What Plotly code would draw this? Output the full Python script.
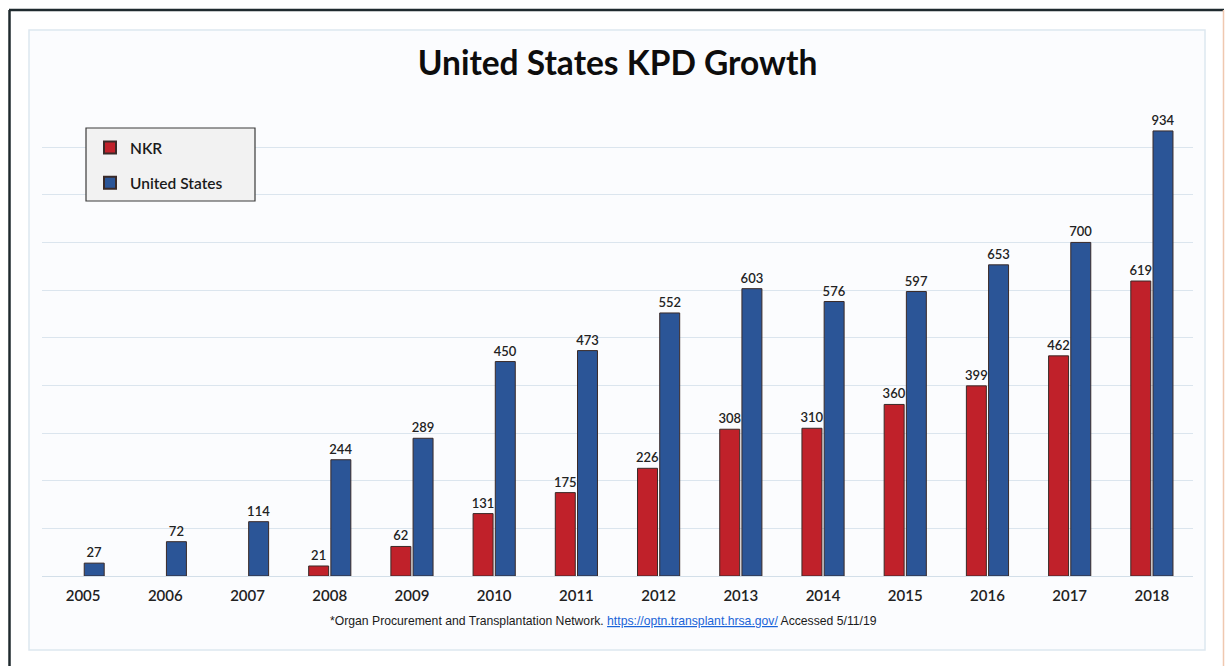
import plotly.graph_objects as go

years = ["2005", "2006", "2007", "2008", "2009", "2010", "2011",
         "2012", "2013", "2014", "2015", "2016", "2017", "2018"]
nkr = [None, None, None, 21, 62, 131, 175, 226, 308, 310, 360, 399, 462, 619]
us = [27, 72, 114, 244, 289, 450, 473, 552, 603, 576, 597, 653, 700, 934]

W, H = 1225, 666
L, R, T, B = 42, 32, 99, 90
PW, PH = W - L - R, H - T - B


def px(x):
    return (x - L) / PW


def py(y):
    return (H - B - y) / PH


RED = "#c0212a"
BLUE = "#2b5597"
OUT = "#3a2a28"
FONT = "Lato"

fig = go.Figure()
fig.add_trace(go.Bar(
    x=years, y=nkr, name="NKR",
    marker=dict(color=RED, line=dict(color=OUT, width=1)),
    text=[("" if v is None else str(v)) for v in nkr],
    textposition="outside", cliponaxis=False, constraintext="none",
    textfont=dict(family=FONT, size=13, color="#222222", weight=600),
    legendgroup="a",
))
fig.add_trace(go.Bar(
    x=years, y=us, name="United States",
    marker=dict(color=BLUE, line=dict(color=OUT, width=1)),
    text=[str(v) for v in us],
    textposition="outside", cliponaxis=False, constraintext="none",
    textfont=dict(family=FONT, size=13, color="#222222", weight=600),
    legendgroup="b",
))

shapes = [
    # inner panel
    dict(type="rect", xref="paper", yref="paper",
         x0=px(29), x1=px(1205), y0=py(650), y1=py(30),
         fillcolor="#fbfcfe", line=dict(color="#dde7f0", width=1.5),
         layer="below"),
    # outer frame
    dict(type="line", xref="paper", yref="paper",
         x0=px(9.5), x1=px(9.5), y0=py(670), y1=py(10),
         line=dict(color="#1f2a2e", width=2.5)),
    dict(type="line", xref="paper", yref="paper",
         x0=px(9), x1=px(1224), y0=py(10), y1=py(10),
         line=dict(color="#1f2a2e", width=2.5)),
    dict(type="line", xref="paper", yref="paper",
         x0=px(1223.5), x1=px(1223.5), y0=py(670), y1=py(10),
         line=dict(color="#f0c8b0", width=1.5)),
    # legend box
    dict(type="rect", xref="paper", yref="paper",
         x0=px(86), x1=px(255), y0=py(201), y1=py(128),
         fillcolor="#f2f2f2", line=dict(color="#3a3a3a", width=1.2)),
]

annotations = [
    dict(xref="paper", yref="paper", x=px(603), y=py(621),
         xanchor="center", yanchor="middle", showarrow=False,
         text=("*Organ Procurement and Transplantation Network. "
               "<a href='https://optn.transplant.hrsa.gov/'>"
               "<span style='color:#1a64d8'><u>https://optn.transplant.hrsa.gov/</u></span></a>"
               " Accessed 5/11/19"),
         font=dict(family="Liberation Sans", size=12.2, color="#1a1a1a")),
]

fig.update_layout(
    width=W, height=H,
    margin=dict(l=L, r=R, t=T, b=B, pad=0),
    paper_bgcolor="white", plot_bgcolor="rgba(0,0,0,0)",
    barmode="group", bargap=0.46, bargroupgap=0.1,
    title=dict(text="<b>United States KPD Growth</b>", x=px(617.5), xref="paper",
               y=1 - 63 / H, yref="container", xanchor="center", yanchor="middle",
               font=dict(family=FONT, size=33.5, color="#0d0d0d")),
    showlegend=True,
    legend=dict(x=px(90), y=py(131), xanchor="left", yanchor="top",
                bgcolor="rgba(0,0,0,0)", borderwidth=0,
                font=dict(family=FONT, size=15.5, color="#1a1a1a", weight=600),
                traceorder="grouped", tracegroupgap=12,
                itemsizing="constant"),
    xaxis=dict(type="category", showgrid=False, zeroline=False, showline=False,
               ticks="", ticklabelstandoff=9,
               tickfont=dict(family=FONT, size=15, color="#222222", weight=600)),
    yaxis=dict(range=[0, 1001], tickvals=list(range(0, 1001, 100)),
               showgrid=True, gridcolor="#dbe5ee",
               gridwidth=1.2, zeroline=True, zerolinecolor="#d3dfe9", zerolinewidth=1.2,
               showticklabels=False, ticks="", showline=False),
    shapes=shapes, annotations=annotations,
)

fig.write_html("out.html", config={"displayModeBar": False},
               post_script="document.body.style.margin='0px';")
